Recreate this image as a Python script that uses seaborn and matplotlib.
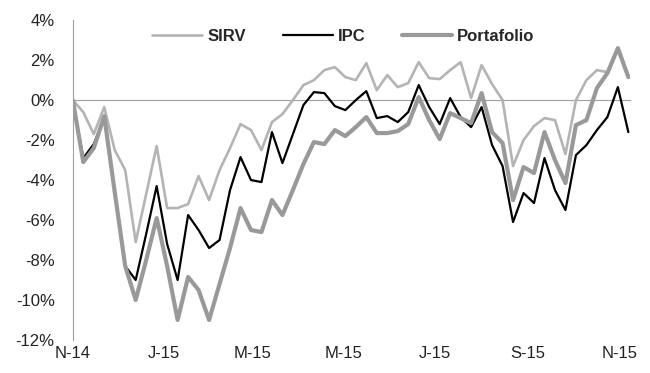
import pandas as pd
import matplotlib
matplotlib.use('Agg')
import matplotlib.pyplot as plt
import seaborn as sns

# weekly cumulative returns, %
sirv = [0, -0.6, -1.7, -0.35, -2.5, -3.5, -7.1, -4.7, -2.3, -5.4,
        -5.4, -5.2, -3.8, -5.0, -3.5, -2.4, -1.2, -1.5, -2.5, -1.1,
        -0.7, 0.0, 0.75, 1.0, 1.5, 1.65, 1.15, 1.0, 1.85, 0.5,
        1.25, 0.65, 0.85, 1.9, 1.1, 1.05, 1.5, 1.9, 0.1, 1.75,
        0.8, 0.0, -3.3, -2.0, -1.3, -0.9, -1.0, -2.7, 0.0, 1.0,
        1.5, 1.4, 2.6, 1.2]
ipc = [0, -2.9, -2.2, -0.9, -4.6, -8.3, -9.0, -6.7, -4.3, -7.2,
       -9.0, -5.75, -6.5, -7.4, -7.0, -4.5, -2.85, -4.0, -4.1, -1.6,
       -3.15, -1.7, -0.25, 0.4, 0.35, -0.3, -0.5, 0.0, 0.45, -0.9,
       -0.8, -1.1, -0.6, 0.75, -0.35, -1.2, 0.1, -0.85, -1.35, -0.35,
       -2.25, -3.3, -6.1, -4.65, -5.15, -2.9, -4.5, -5.5, -2.75, -2.25,
       -1.5, -0.85, 0.65, -1.6]
portafolio = [0, -3.1, -2.4, -0.8, -4.6, -8.3, -10.0, -8.0, -5.9, -8.3,
              -11.0, -8.85, -9.5, -11.0, -9.2, -7.4, -5.4, -6.5, -6.6, -5.0,
              -5.75, -4.5, -3.2, -2.1, -2.2, -1.5, -1.8, -1.35, -0.85, -1.65,
              -1.65, -1.55, -1.2, 0.15, -1.0, -1.95, -0.65, -0.9, -1.15, 0.35,
              -1.6, -2.15, -5.0, -3.35, -3.65, -1.6, -3.0, -4.15, -1.25, -1.0,
              0.6, 1.35, 2.6, 1.15]

dates = pd.date_range('2014-11-01', periods=len(sirv), freq='7D')
tick_dates = pd.to_datetime(['2014-11-01', '2015-01-01', '2015-03-01', '2015-05-01',
                             '2015-07-01', '2015-09-01', '2015-11-01'])
tick_labels = ['N-14', 'J-15', 'M-15', 'M-15', 'J-15', 'S-15', 'N-15']
y_ticks = list(range(-12, 5, 2))

start = dates[0]
days = (dates - start).days
tick_pos = (tick_dates - start).days

df = pd.DataFrame({'day': days, 'SIRV': sirv, 'IPC': ipc, 'Portafolio': portafolio})

sns.set_style('white')
plt.rcParams['font.family'] = ['Liberation Sans', 'DejaVu Sans']

fig = plt.figure(figsize=(6.5, 3.73), dpi=100)
ax = fig.add_axes([0.112, 0.0885, 0.857, 0.8575])

sns.lineplot(data=df, x='day', y='SIRV', ax=ax, color='#b4b4b4', linewidth=1.9, label='SIRV')
sns.lineplot(data=df, x='day', y='IPC', ax=ax, color='#000000', linewidth=1.6, label='IPC')
sns.lineplot(data=df, x='day', y='Portafolio', ax=ax, color='#999999', linewidth=3.0, label='Portafolio')

ax.set_xlim(0, 372)
ax.set_ylim(-12, 4)
ax.set_yticks(y_ticks)
ax.set_yticklabels(['%d%%' % v for v in y_ticks])
ax.set_xlabel('')
ax.set_ylabel('')

axis_gray = '#a0a0a0'
for s in ['top', 'right']:
    ax.spines[s].set_visible(False)
ax.spines['left'].set_color(axis_gray)
ax.spines['bottom'].set_color(axis_gray)
ax.spines['bottom'].set_position(('data', 0))
ax.spines['bottom'].set_zorder(0)

ax.set_xticks(tick_pos)
ax.tick_params(axis='x', direction='out', length=5, color=axis_gray, labelbottom=False)
ax.tick_params(axis='y', direction='out', length=5, color=axis_gray,
               labelsize=12, labelcolor='#222222', pad=8)

sec = ax.secondary_xaxis(0.0)
sec.set_xticks(tick_pos)
sec.set_xticklabels(tick_labels)
sec.spines['bottom'].set_visible(False)
sec.tick_params(axis='x', length=0, labelsize=12, labelcolor='#222222', pad=4)

ax.legend(loc='center', bbox_to_anchor=(0.528, 0.903), bbox_transform=fig.transFigure,
          ncol=3, frameon=False, handlelength=3, handletextpad=0.3, columnspacing=2.2,
          prop={'weight': 'bold', 'size': 12})

fig.savefig('out.png', dpi=100)
